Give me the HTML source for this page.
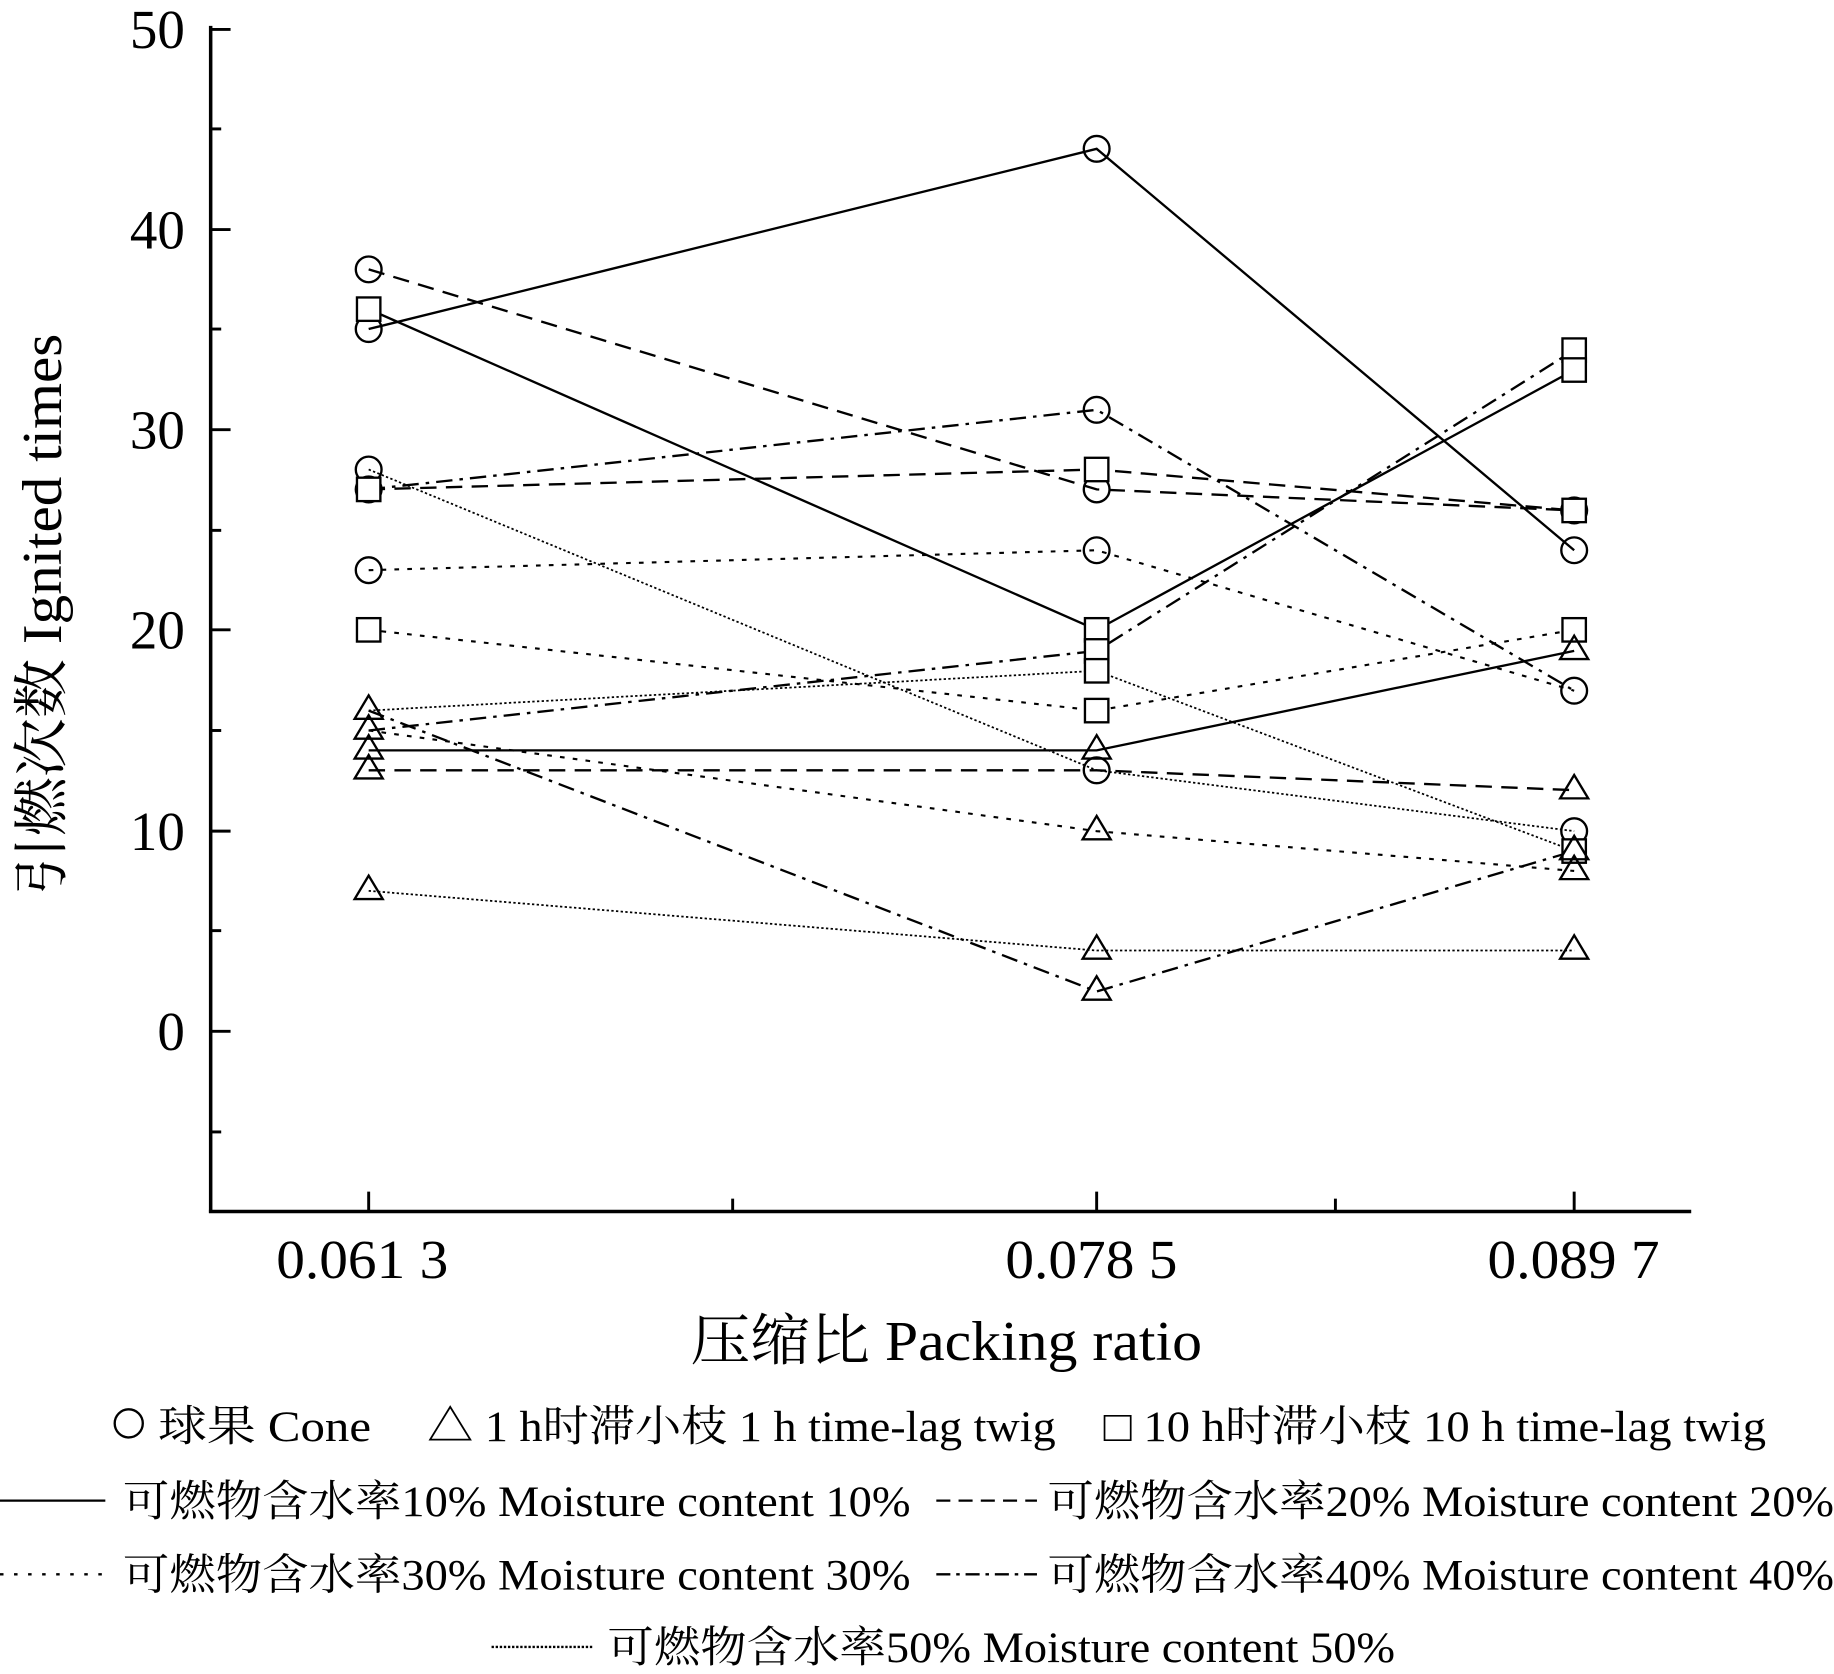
<!DOCTYPE html>
<html><head><meta charset="utf-8"><style>html,body{margin:0;padding:0;background:#fff}svg{display:block}</style></head>
<body>
<svg xmlns="http://www.w3.org/2000/svg" width="1834" height="1674" viewBox="0 0 1567 1430" font-family="'Liberation Serif','Noto Serif CJK SC',serif">
<rect width="1567" height="1430" fill="#fff"/>
<g stroke="#000" stroke-width="3" fill="none">
<line x1="180" y1="22" x2="180" y2="1036"/>
<line x1="178.5" y1="1035" x2="1445" y2="1035"/>
<g stroke-width="2.5">
<line x1="180" y1="25" x2="197" y2="25"/><line x1="180" y1="196" x2="197" y2="196"/><line x1="180" y1="367" x2="197" y2="367"/><line x1="180" y1="538" x2="197" y2="538"/><line x1="180" y1="710" x2="197" y2="710"/><line x1="180" y1="881" x2="197" y2="881"/>
<line x1="180" y1="110" x2="189" y2="110"/><line x1="180" y1="281" x2="189" y2="281"/><line x1="180" y1="453" x2="189" y2="453"/><line x1="180" y1="624" x2="189" y2="624"/><line x1="180" y1="795" x2="189" y2="795"/><line x1="180" y1="967" x2="189" y2="967"/>
<line x1="315" y1="1035" x2="315" y2="1018"/><line x1="937" y1="1035" x2="937" y2="1018"/><line x1="1345" y1="1035" x2="1345" y2="1018"/>
<line x1="626" y1="1035" x2="626" y2="1024"/><line x1="1141" y1="1035" x2="1141" y2="1024"/>
</g>
</g>
<g font-size="47" text-anchor="end">
<text x="158" y="41">50</text><text x="158" y="212">40</text><text x="158" y="383">30</text><text x="158" y="554">20</text><text x="158" y="726">10</text><text x="158" y="897">0</text>
</g>
<g font-size="47">
<text x="236" y="1092" textLength="147" lengthAdjust="spacingAndGlyphs">0.061 3</text><text x="859" y="1092" textLength="147" lengthAdjust="spacingAndGlyphs">0.078 5</text><text x="1271" y="1092" textLength="147" lengthAdjust="spacingAndGlyphs">0.089 7</text>
</g>
<text x="590" y="1162" font-size="48" textLength="437" lengthAdjust="spacingAndGlyphs">压缩比  Packing ratio</text>
<text transform="translate(52,765) rotate(-90)" font-size="48" textLength="480" lengthAdjust="spacingAndGlyphs">引燃次数  Ignited times</text>
<g fill="none" stroke="#000" stroke-width="2">
<polyline points="315,281 937,127 1345,470"/>
<polyline points="315,264 937,538 1345,316"/>
<polyline points="315,641 937,641 1345,556"/>
<g stroke-dasharray="14,8">
<polyline points="315,230 937,418 1345,436"/>
<polyline points="315,418 937,401 1345,436"/>
<polyline points="315,658 937,658 1345,675"/>
</g>
<g stroke-dasharray="4,7" stroke-width="1.8">
<polyline points="315,487 937,470 1345,590"/>
<polyline points="315,538 937,607 1345,538"/>
<polyline points="315,624 937,710 1345,744"/>
</g>
<g stroke-dasharray="14,6,3,6">
<polyline points="315,418 937,350 1345,590"/>
<polyline points="315,624 937,556 1345,299"/>
<polyline points="315,607 937,847 1345,727"/>
</g>
<g stroke-dasharray="2,2" stroke-width="1.5">
<polyline points="315,401 937,658 1345,710"/>
<polyline points="315,607 937,573 1345,727"/>
<polyline points="315,761 937,812 1345,812"/>
</g>
<g stroke-width="2">
<circle cx="315" cy="230" r="11"/><circle cx="315" cy="281" r="11"/><circle cx="315" cy="401" r="11"/><circle cx="315" cy="487" r="11"/><circle cx="315" cy="418" r="11"/>
<circle cx="937" cy="127" r="11"/><circle cx="937" cy="350" r="11"/><circle cx="937" cy="418" r="11"/><circle cx="937" cy="470" r="11"/><circle cx="937" cy="658" r="11"/>
<circle cx="1345" cy="470" r="11"/><circle cx="1345" cy="436" r="11"/><circle cx="1345" cy="590" r="11"/><circle cx="1345" cy="710" r="11"/>
</g>
<g stroke-width="2" fill="#fff">
<rect x="305" y="254" width="20" height="20"/><rect x="305" y="408" width="20" height="20"/><rect x="305" y="528" width="20" height="20"/>
<rect x="927" y="391" width="20" height="20"/><rect x="927" y="528" width="20" height="20"/><rect x="927" y="546" width="20" height="20"/><rect x="927" y="563" width="20" height="20"/><rect x="927" y="597" width="20" height="20"/>
<rect x="1335" y="289" width="20" height="20"/><rect x="1335" y="306" width="20" height="20"/><rect x="1335" y="426" width="20" height="20"/><rect x="1335" y="528" width="20" height="20"/><rect x="1335" y="717" width="20" height="20"/>
</g>
<g stroke-width="2" fill="none">
<path d="M315,594 l-12,20 h24z M315,611 l-12,20 h24z M315,628 l-12,20 h24z M315,645 l-12,20 h24z M315,748 l-12,20 h24z"/>
<path d="M937,628 l-12,20 h24z M937,697 l-12,20 h24z M937,799 l-12,20 h24z M937,834 l-12,20 h24z"/>
<path d="M1345,543 l-12,20 h24z M1345,662 l-12,20 h24z M1345,714 l-12,20 h24z M1345,731 l-12,20 h24z M1345,799 l-12,20 h24z"/>
</g>
</g>
<g font-size="37">
<circle cx="110" cy="1216" r="12" fill="none" stroke="#000" stroke-width="2"/>
<text x="135" y="1231" textLength="182" lengthAdjust="spacingAndGlyphs">球果  Cone</text>
<text x="365" y="1231" textLength="537" lengthAdjust="spacingAndGlyphs">△ 1 h时滞小枝  1 h time-lag twig</text>
<text x="943" y="1231" textLength="566" lengthAdjust="spacingAndGlyphs">□ 10 h时滞小枝  10 h time-lag twig</text>
<text x="105" y="1295" textLength="673" lengthAdjust="spacingAndGlyphs">可燃物含水率10%  Moisture content 10%</text>
<text x="895" y="1295" textLength="672" lengthAdjust="spacingAndGlyphs">可燃物含水率20%  Moisture content 20%</text>
<text x="105" y="1358" textLength="673" lengthAdjust="spacingAndGlyphs">可燃物含水率30%  Moisture content 30%</text>
<text x="895" y="1358" textLength="672" lengthAdjust="spacingAndGlyphs">可燃物含水率40%  Moisture content 40%</text>
<text x="519" y="1420" textLength="673" lengthAdjust="spacingAndGlyphs">可燃物含水率50%  Moisture content 50%</text>
</g>
<g stroke="#000" fill="none">
<line x1="0" y1="1282" x2="90" y2="1282" stroke-width="2"/>
<line x1="800" y1="1282" x2="886" y2="1282" stroke-width="2" stroke-dasharray="12,7"/>
<line x1="0" y1="1345" x2="90" y2="1345" stroke-width="2" stroke-dasharray="3,9"/>
<line x1="800" y1="1345" x2="886" y2="1345" stroke-width="2" stroke-dasharray="12,5,3,5"/>
<line x1="420" y1="1407" x2="507" y2="1407" stroke-width="2" stroke-dasharray="2,1.5"/>
</g>
</svg>
</body></html>
